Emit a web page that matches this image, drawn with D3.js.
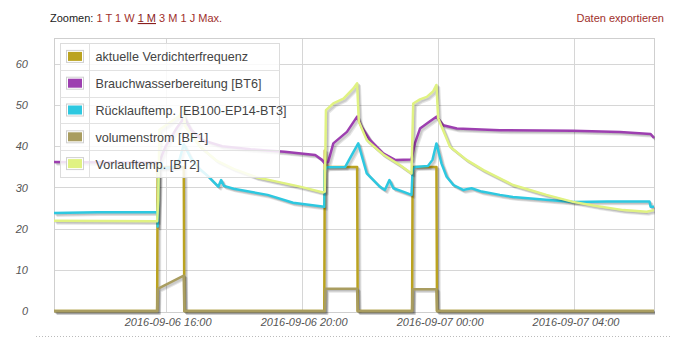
<!DOCTYPE html>
<html>
<head>
<meta charset="utf-8">
<script src="https://cdn.jsdelivr.net/npm/d3@7"></script>
<style>
  body { margin: 0; background: #fff; }
  svg { display: block; font-family: "Liberation Sans", Arial, sans-serif; }
</style>
</head>
<body>
<script>
// ---------- DATA ----------
const seriesNames = [
  "aktuelle Verdichterfrequenz",
  "Brauchwasserbereitung [BT6]",
  "Rücklauftemp. [EB100-EP14-BT3]",
  "volumenstrom [BF1]",
  "Vorlauftemp. [BT2]"
];
const seriesColors = ["#bba320", "#9d3fb0", "#2dc8e0", "#a99d60", "#e0f282"];

const xTickLabels = ["2016-09-06 16:00", "2016-09-06 20:00", "2016-09-07 00:00", "2016-09-07 04:00"];
const yTickValues = [0, 10, 20, 30, 40, 50, 60];
const xStart = "2016-09-06 12:43";
const xEnd = "2016-09-07 06:22";
const yMax = 66.3;

const zoomLinks = ["1 T", "1 W", "1 M", "3 M", "1 J", "Max."];

const verdichter = [
  ["2016-09-06 12:43", 0], ["2016-09-06 15:45", 0], ["2016-09-06 15:46", 35],
  ["2016-09-06 16:32", 35], ["2016-09-06 16:33", 0], ["2016-09-06 20:40", 0],
  ["2016-09-06 20:41", 39], ["2016-09-06 20:43", 35], ["2016-09-06 21:38", 35],
  ["2016-09-06 21:39", 0], ["2016-09-06 23:15", 0], ["2016-09-06 23:16", 35],
  ["2016-09-06 23:58", 35], ["2016-09-06 23:59", 0], ["2016-09-07 06:22", 0]
];
const brauchwasser = [
  ["2016-09-06 12:43", 36.2], ["2016-09-06 15:45", 36.0], ["2016-09-06 15:47", 35.5],
  ["2016-09-06 16:00", 40], ["2016-09-06 16:20", 44.5], ["2016-09-06 16:33", 47],
  ["2016-09-06 16:45", 44], ["2016-09-06 17:05", 41.5], ["2016-09-06 17:40", 40],
  ["2016-09-06 18:30", 39.3], ["2016-09-06 19:30", 38.7], ["2016-09-06 20:24", 37.9],
  ["2016-09-06 20:36", 36.7], ["2016-09-06 20:41", 35.8], ["2016-09-06 20:47", 36.2],
  ["2016-09-06 20:56", 40.7], ["2016-09-06 21:20", 43.5], ["2016-09-06 21:38", 47.2],
  ["2016-09-06 21:46", 44.7], ["2016-09-06 22:01", 41.5], ["2016-09-06 22:24", 38.3],
  ["2016-09-06 22:45", 36.7], ["2016-09-06 23:14", 36.8], ["2016-09-06 23:20", 40.7],
  ["2016-09-06 23:29", 44.3], ["2016-09-06 23:46", 46], ["2016-09-06 23:58", 47.2],
  ["2016-09-07 00:10", 45.1], ["2016-09-07 00:34", 44.3], ["2016-09-07 01:50", 43.9],
  ["2016-09-07 03:59", 43.8], ["2016-09-07 05:22", 43.5], ["2016-09-07 06:16", 43],
  ["2016-09-07 06:22", 42]
];
const ruecklauf = [
  ["2016-09-06 12:43", 23.8], ["2016-09-06 14:00", 24.0], ["2016-09-06 15:45", 24.0],
  ["2016-09-06 15:46", 20.5], ["2016-09-06 15:48", 34.5], ["2016-09-06 16:15", 35],
  ["2016-09-06 16:25", 37], ["2016-09-06 16:32", 40.5], ["2016-09-06 16:45", 37],
  ["2016-09-06 17:00", 34.5], ["2016-09-06 17:13", 33], ["2016-09-06 17:33", 30.2],
  ["2016-09-06 17:38", 31.8], ["2016-09-06 17:43", 30.4], ["2016-09-06 18:00", 29.7],
  ["2016-09-06 19:00", 28.2], ["2016-09-06 19:45", 26.3], ["2016-09-06 20:40", 25.3],
  ["2016-09-06 20:41", 34.2], ["2016-09-06 20:45", 34.9], ["2016-09-06 21:17", 35],
  ["2016-09-06 21:25", 37], ["2016-09-06 21:40", 40.7], ["2016-09-06 21:55", 33.4],
  ["2016-09-06 22:18", 30.2], ["2016-09-06 22:27", 29.4], ["2016-09-06 22:35", 31.8],
  ["2016-09-06 22:42", 29.8], ["2016-09-06 22:59", 29], ["2016-09-06 23:14", 28.2],
  ["2016-09-06 23:16", 34.2], ["2016-09-06 23:20", 35], ["2016-09-06 23:43", 35.2],
  ["2016-09-06 23:51", 36.7], ["2016-09-06 23:58", 40.7], ["2016-09-07 00:07", 35.8],
  ["2016-09-07 00:16", 32.6], ["2016-09-07 00:28", 30.6], ["2016-09-07 00:45", 29.4],
  ["2016-09-07 01:00", 29.8], ["2016-09-07 01:18", 29], ["2016-09-07 01:50", 28.2],
  ["2016-09-07 02:13", 27.7], ["2016-09-07 03:59", 26.5], ["2016-09-07 04:59", 26.6],
  ["2016-09-07 06:14", 26.6], ["2016-09-07 06:16", 25.3], ["2016-09-07 06:22", 25.3]
];
const volumenstrom = [
  ["2016-09-06 12:43", 0], ["2016-09-06 15:45", 0], ["2016-09-06 15:46", 5.4],
  ["2016-09-06 16:32", 8.6], ["2016-09-06 16:33", 0], ["2016-09-06 20:41", 0],
  ["2016-09-06 20:42", 5.4], ["2016-09-06 21:38", 5.4], ["2016-09-06 21:39", 0],
  ["2016-09-06 23:15", 0], ["2016-09-06 23:16", 5.3], ["2016-09-06 23:58", 5.3],
  ["2016-09-06 23:59", 0], ["2016-09-07 06:22", 0]
];
const vorlauf = [
  ["2016-09-06 12:43", 21.9], ["2016-09-06 15:45", 21.8], ["2016-09-06 15:47", 27],
  ["2016-09-06 15:49", 44], ["2016-09-06 16:10", 46], ["2016-09-06 16:25", 47.5],
  ["2016-09-06 16:32", 49.5], ["2016-09-06 16:34", 45], ["2016-09-06 17:00", 40],
  ["2016-09-06 17:30", 36.5], ["2016-09-06 18:00", 34.5], ["2016-09-06 18:40", 32.5],
  ["2016-09-06 19:10", 31.6], ["2016-09-06 19:57", 30.2], ["2016-09-06 20:38", 28.8],
  ["2016-09-06 20:41", 29], ["2016-09-06 20:43", 48.8], ["2016-09-06 20:56", 50.4],
  ["2016-09-06 21:14", 51.6], ["2016-09-06 21:31", 54], ["2016-09-06 21:38", 55.3],
  ["2016-09-06 21:41", 46], ["2016-09-06 21:55", 41.5], ["2016-09-06 22:24", 38.0],
  ["2016-09-06 22:54", 35.4], ["2016-09-06 23:14", 33.4], ["2016-09-06 23:17", 50.4],
  ["2016-09-06 23:29", 51.4], ["2016-09-06 23:41", 52], ["2016-09-06 23:52", 53.3],
  ["2016-09-06 23:58", 54.9], ["2016-09-07 00:01", 46.8], ["2016-09-07 00:22", 39.9],
  ["2016-09-07 00:51", 36.7], ["2016-09-07 01:21", 34.2], ["2016-09-07 01:50", 32.2],
  ["2016-09-07 02:13", 30.6], ["2016-09-07 02:43", 29.4], ["2016-09-07 03:12", 28.2],
  ["2016-09-07 03:59", 26.5], ["2016-09-07 04:40", 25.5], ["2016-09-07 05:28", 24.5],
  ["2016-09-07 06:09", 24.1], ["2016-09-07 06:22", 24.5]
];
const seriesData = [verdichter, brauchwasser, ruecklauf, volumenstrom, vorlauf];

// ---------- CHART ----------
const W = 676, H = 340;
const plot = { left: 54, right: 654, top: 38, bottom: 311 };
const parse = d3.timeParse("%Y-%m-%d %H:%M");

const x = d3.scaleTime().domain([parse(xStart), parse(xEnd)]).range([plot.left, plot.right]);
const y = d3.scaleLinear().domain([0, yMax]).range([plot.bottom, plot.top]);

const svg = d3.select("body").append("svg").attr("width", W).attr("height", H);
svg.append("rect").attr("width", W).attr("height", H).attr("fill", "#fff");

// header
const header = svg.append("text").attr("x", 50).attr("y", 22).attr("font-size", 11);
header.append("tspan").attr("fill", "#222").text("Zoomen: ");
zoomLinks.forEach((l, i) => {
  const t = header.append("tspan").attr("fill", "#a0302c").text(l);
  if (l === "1 M") t.attr("text-decoration", "underline").attr("fill", "#8a1e1e");
  if (i < zoomLinks.length - 1) header.append("tspan").attr("fill", "#a0302c").text(" ");
});
svg.append("text").attr("x", 664).attr("y", 22).attr("text-anchor", "end")
  .attr("font-size", 11).attr("fill", "#a0302c").text("Daten exportieren");

// grid
const xTicks = xTickLabels.map(parse);
const grid = svg.append("g");
grid.selectAll("line.h").data(yTickValues.filter(v => v > 0)).join("line")
  .attr("x1", plot.left).attr("x2", plot.right)
  .attr("y1", d => Math.round(y(d)) + 0.5).attr("y2", d => Math.round(y(d)) + 0.5)
  .attr("stroke", "#d6d6d6");
grid.selectAll("line.v").data(xTicks).join("line")
  .attr("y1", plot.top).attr("y2", plot.bottom + 2)
  .attr("x1", d => Math.round(x(d)) + 0.5).attr("x2", d => Math.round(x(d)) + 0.5)
  .attr("stroke", "#d6d6d6");
svg.append("rect").attr("x", plot.left + 0.5).attr("y", plot.top + 0.5)
  .attr("width", plot.right - plot.left).attr("height", plot.bottom - plot.top + 1)
  .attr("fill", "none").attr("stroke", "#cfcfcf");

// axes (labels only)
const yAxis = d3.axisLeft(y).tickValues(yTickValues).tickSize(0).tickPadding(26).tickFormat(d3.format("d"));
const gy = svg.append("g").attr("transform", `translate(${plot.left},0)`).call(yAxis);
gy.select(".domain").remove();
gy.selectAll("text").attr("font-size", 11).attr("font-style", "italic").attr("fill", "#555")
  .attr("font-family", "'Liberation Sans', Arial, sans-serif");

const xAxis = d3.axisBottom(x).tickValues(xTicks).tickSize(0).tickPadding(7)
  .tickFormat(d3.timeFormat("%Y-%m-%d %H:%M"));
const gx = svg.append("g").attr("transform", `translate(0,${plot.bottom})`).call(xAxis);
gx.select(".domain").remove();
gx.selectAll("text").attr("font-size", 11).attr("font-style", "italic").attr("fill", "#555")
  .attr("dx", 2).attr("font-family", "'Liberation Sans', Arial, sans-serif");

// series
svg.append("clipPath").attr("id", "clip").append("rect")
  .attr("x", plot.left).attr("y", plot.top - 2)
  .attr("width", plot.right - plot.left + 1).attr("height", plot.bottom - plot.top + 8);
const line = d3.line().x(d => x(parse(d[0]))).y(d => y(d[1]));
const sg = svg.append("g").attr("clip-path", "url(#clip)");
seriesData.forEach((data, i) => {
  const g = sg.append("g");
  for (let j = 3; j >= 1; j--) {
    g.append("path").attr("d", line(data)).attr("fill", "none")
      .attr("stroke", "#000").attr("stroke-opacity", 0.1).attr("stroke-width", 2.5)
      .attr("stroke-linejoin", "round")
      .attr("transform", `translate(${0.88 * j},${0.88 * j})`);
  }
  g.append("path").attr("d", line(data)).attr("fill", "none")
    .attr("stroke", seriesColors[i]).attr("stroke-width", 2.5).attr("stroke-linejoin", "round");
});

// legend
const lg = svg.append("g").attr("transform", "translate(60.5,43.5)");
const rowH = 26.8, lw = 219;
lg.append("rect").attr("width", lw).attr("height", rowH * seriesNames.length)
  .attr("fill", "#fff").attr("fill-opacity", 0.85).attr("stroke", "#dcdcdc");
lg.append("line").attr("x1", 29).attr("x2", 29).attr("y1", 0).attr("y2", rowH * seriesNames.length)
  .attr("stroke", "#e2e2e2");
seriesNames.forEach((name, i) => {
  const ry = i * rowH;
  if (i > 0) lg.append("line").attr("x1", 0).attr("x2", lw).attr("y1", Math.round(ry)).attr("y2", Math.round(ry))
    .attr("stroke", "#e2e2e2");
  lg.append("rect").attr("x", 6).attr("y", ry + rowH / 2 - 6.5).attr("width", 17).attr("height", 12)
    .attr("fill", "#fff").attr("stroke", "#d0d0d0");
  lg.append("rect").attr("x", 7.5).attr("y", ry + rowH / 2 - 5).attr("width", 14).attr("height", 9)
    .attr("fill", seriesColors[i]);
  lg.append("text").attr("x", 35).attr("y", ry + rowH / 2 + 4.5)
    .attr("font-size", 12.6).attr("fill", "#444").text(name);
});

// bottom dotted separator
svg.append("line").attr("x1", 36).attr("x2", 670).attr("y1", 336.5).attr("y2", 336.5)
  .attr("stroke", "#bbb").attr("stroke-dasharray", "1,2");
</script>
</body>
</html>
